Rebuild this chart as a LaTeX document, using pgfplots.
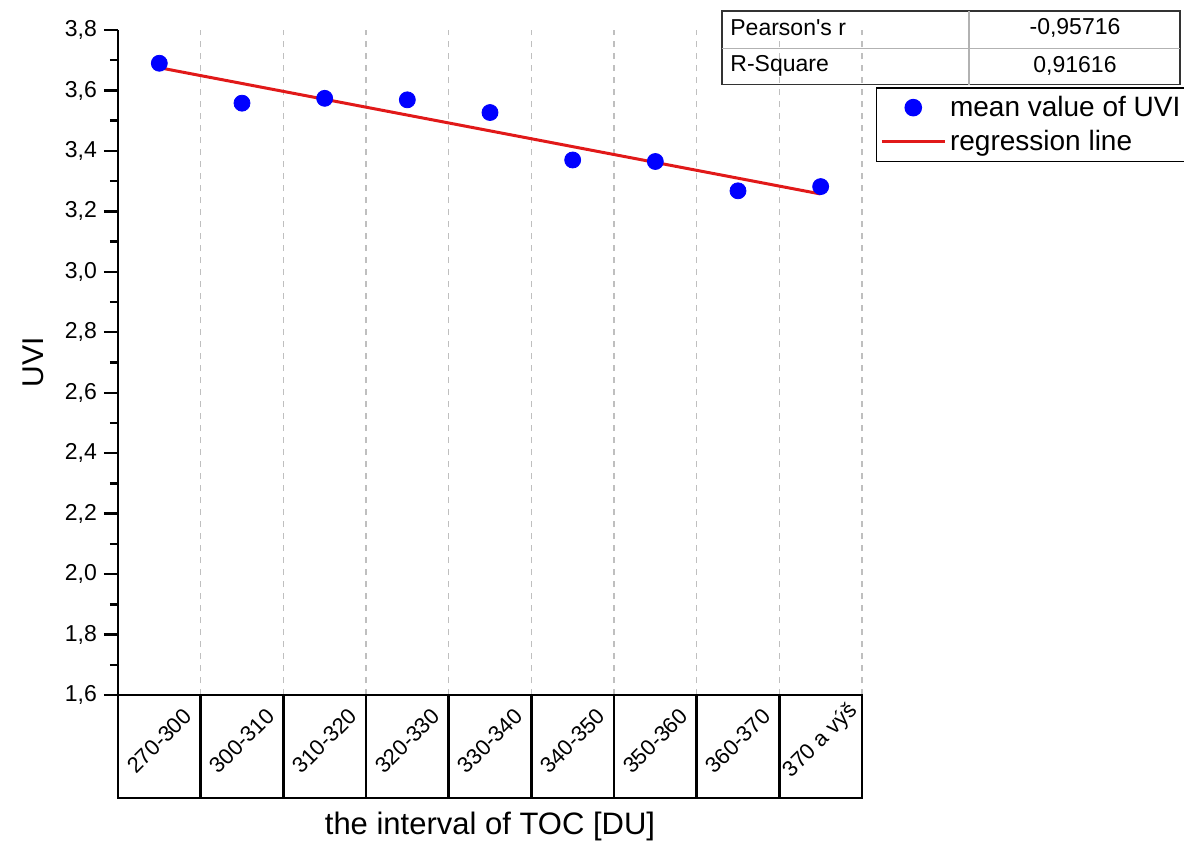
\documentclass[border=0pt]{standalone}
\usepackage{fontspec}
\setmainfont{Liberation Sans}
\usepackage{pgfplots}
\pgfplotsset{compat=1.18}
\definecolor{regred}{RGB}{225,25,25}
\begin{document}
\begin{tikzpicture}
\useasboundingbox (-59pt,-74pt) rectangle (533pt,347.5pt);
\begin{axis}[
  at={(0,0)}, anchor=south west,
  scale only axis, width=372pt, height=332.5pt,
  xmin=0.5, xmax=9.5, ymin=1.6, ymax=3.8,
  axis x line*=bottom, axis y line*=left,
  axis line style={line width=1.4pt, black},
  xtick={1,2,3,4,5,6,7,8,9},
  xticklabels={270-300,300-310,310-320,320-330,330-340,340-350,350-360,360-370,370 a výš},
  x tick style={draw=none},
  xticklabel style={rotate=45, anchor=center, font=\fontsize{11}{13}\selectfont},
  xticklabel shift=16pt,
  extra x ticks={1.5,2.5,3.5,4.5,5.5,6.5,7.5,8.5,9.5},
  extra x tick labels={},
  extra x tick style={grid=major, major grid style={dashed, black!25, line width=0.6pt}, major tick length=0pt},
  ytick={1.6,1.8,2.0,2.2,2.4,2.6,2.8,3.0,3.2,3.4,3.6,3.8},
  minor y tick num=1,
  tick align=outside,
  major tick length=7pt, minor tick length=4pt,
  y tick style={line width=1.2pt, black},
  yticklabel style={font=\fontsize{11.5}{13}\selectfont, /pgf/number format/.cd, fixed, fixed zerofill, precision=1, use comma, assume math mode=true},
  ylabel={UVI},
  every axis y label/.style={at={(axis description cs:-0.1142,0.5)}, rotate=90, anchor=center, font=\fontsize{15}{17}\selectfont},
  xlabel={the interval of TOC [DU]},
  every axis x label/.style={at={(axis description cs:0.5,-0.197)}, anchor=center, font=\fontsize{15.5}{17}\selectfont},
  legend style={at={(axis description cs:1.0184,0.914)}, anchor=north west, draw=black, line width=0.8pt,
    font=\fontsize{14}{16}\selectfont, inner xsep=2pt, inner ysep=2pt, row sep=1.5pt, cells={anchor=west}},
  legend image code/.code={\draw[mark repeat=2,mark phase=2,#1] plot coordinates {(0cm,0cm) (0.55cm,0cm) (1.1cm,0cm)};},
]
\addplot[only marks, mark=*, mark size=4pt, color=blue] coordinates {
  (1,3.690) (2,3.558) (3,3.574) (4,3.569) (5,3.527) (6,3.370) (7,3.365) (8,3.268) (9,3.282)};
\addlegendentry{mean value of UVI}
\addplot[color=regred, line width=1.5pt, no marks] coordinates {(1,3.6753) (9,3.2575)};
\addlegendentry{regression line}
\end{axis}
% category table below the axis
\draw[line width=1.2pt] (0,0) rectangle (372pt,-51.5pt);
\foreach \i in {1,...,8} \draw[line width=1.2pt] (\i*41.3333pt,0) -- (\i*41.3333pt,-51.5pt);
% statistics table
\draw[black!80, line width=0.8pt] (301.85pt,305.25pt) rectangle (531pt,341.9pt);
\draw[black!30, line width=0.6pt] (301.85pt,323.1pt) -- (531pt,323.1pt);
\draw[black!30, line width=0.6pt] (425.5pt,305.25pt) -- (425.5pt,341.9pt);
\begin{scope}[font=\fontsize{11.5}{13}\selectfont]
\node[anchor=west, inner sep=0pt] at (306pt,333.6pt) {Pearson\textquotesingle s r};
\node[anchor=west, inner sep=0pt] at (306pt,314.4pt) {R-Square};
\node[inner sep=0pt] at (478.5pt,333.6pt) {-0,95716};
\node[inner sep=0pt] at (478.5pt,314.4pt) {0,91616};
\end{scope}
\end{tikzpicture}
\end{document}
